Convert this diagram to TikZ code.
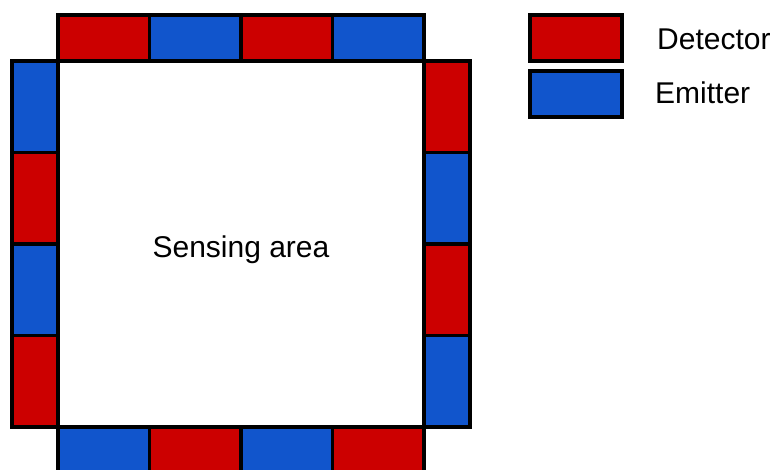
\documentclass[tikz,border=0pt]{standalone}
\usepackage{fontspec}
\setmainfont{Liberation Sans}
\definecolor{detred}{HTML}{CC0000}
\definecolor{emitblue}{HTML}{1155CC}
\tikzset{
  cell/.style={draw=black,line width=3.5pt,fill=#1},
  lbl/.style={inner sep=0pt,font=\fontsize{30}{34}\selectfont}
}

\begin{document}
\begin{tikzpicture}[x=1pt,y=-1pt]
  \useasboundingbox (0,0) rectangle (773,470);
  \clip (0,0) rectangle (773,470);
  % ring of detectors and emitters round the sensing area
  \foreach \c/\d [count=\i from 0] in {detred/emitblue,emitblue/detred,detred/emitblue,emitblue/detred} {
    \draw[cell=\c] (58+91.5*\i,15) rectangle ++(91.5,46);
    \draw[cell=\c] (424,61+91.5*\i) rectangle ++(46,91.5);
    \draw[cell=\d] (58+91.5*\i,427) rectangle ++(91.5,46);
    \draw[cell=\d] (12,61+91.5*\i) rectangle ++(46,91.5);
  }
  \node[lbl,anchor=base] (area) at (241,258) {Sensing area};
  % legend
  \draw[cell=detred] (530,15) rectangle (622,61);
  \draw[cell=emitblue] (530,71) rectangle (622,117);
  \node[lbl,anchor=west] (det) at (657,39) {Detector};
  \node[lbl,anchor=west] (emit) at (655,93) {Emitter};
\end{tikzpicture}
\end{document}
